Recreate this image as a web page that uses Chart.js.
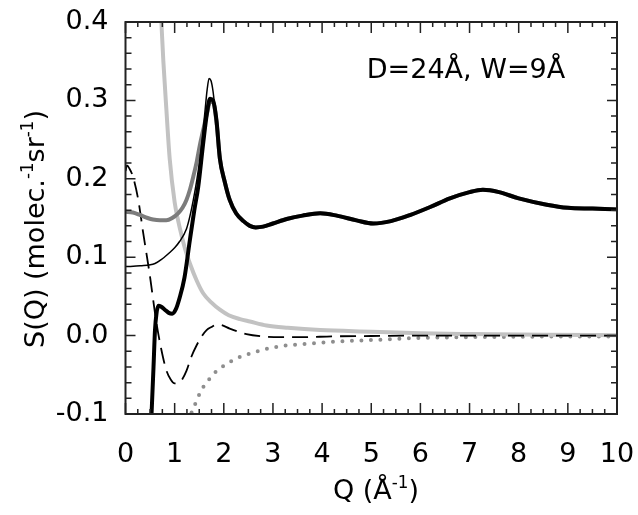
<!DOCTYPE html>
<html>
<head>
<meta charset="utf-8">
<script src="https://cdn.jsdelivr.net/npm/chart.js@4"></script>
<style>
  html, body { margin: 0; padding: 0; background: #fff; }
</style>
</head>
<body>
<canvas id="sq" width="638" height="515"></canvas>
<script>
// Axes
const qTicks = [0, 1, 2, 3, 4, 5, 6, 7, 8, 9, 10];
const sTicks = [-0.1, 0.0, 0.1, 0.2, 0.3, 0.4];
const qMinorStep = 0.25;
const sMinorStep = 0.02;

// S(Q) total (trait noir epais)
const qTot = [0.50, 0.53, 0.57, 0.60, 0.63, 0.67, 0.72, 0.80, 0.88, 0.95, 1.02, 1.10, 1.20, 1.31, 1.40, 1.48, 1.58, 1.66, 1.72, 1.78, 1.85, 1.92];
const sTot = [-0.150, -0.100, -0.040, 0.007, 0.028, 0.038, 0.037, 0.033, 0.029, 0.028, 0.033, 0.048, 0.074, 0.122, 0.160, 0.190, 0.245, 0.285, 0.302, 0.300, 0.275, 0.226];

// partie commune aux trois courbes au dela du pic
const qTail = [2.02, 2.12, 2.25, 2.40, 2.53, 2.65, 2.80, 3.00, 3.30, 3.60, 3.96, 4.30, 4.70, 5.04, 5.40, 5.80, 6.20, 6.60, 7.00, 7.27, 7.60, 8.00, 8.57, 9.00, 9.50, 10.0];
const sTail = [0.196, 0.173, 0.156, 0.146, 0.140, 0.138, 0.139, 0.143, 0.149, 0.153, 0.156, 0.153, 0.147, 0.143, 0.146, 0.154, 0.164, 0.175, 0.183, 0.186, 0.183, 0.175, 0.167, 0.163, 0.162, 0.161];

// trait fin noir
const qThin = [0, 0.30, 0.60, 0.75, 0.90, 1.00, 1.10, 1.24, 1.31, 1.38, 1.45, 1.51, 1.57, 1.62, 1.66, 1.70, 1.74, 1.78, 1.82, 1.87, 1.92];
const sThin = [0.088, 0.089, 0.092, 0.098, 0.106, 0.112, 0.120, 0.136, 0.152, 0.173, 0.198, 0.224, 0.256, 0.288, 0.313, 0.328, 0.325, 0.312, 0.290, 0.258, 0.226];

// gris fonce
const qGray = [0, 0.15, 0.29, 0.45, 0.56, 0.70, 0.83, 0.95, 1.07, 1.16, 1.24, 1.31, 1.38, 1.45, 1.51, 1.58, 1.66, 1.72, 1.78, 1.85, 1.92];
const sGray = [0.158, 0.157, 0.154, 0.150, 0.148, 0.147, 0.147, 0.150, 0.156, 0.163, 0.173, 0.186, 0.203, 0.222, 0.242, 0.262, 0.284, 0.298, 0.298, 0.273, 0.226];

// gris clair (decroissance)
const qLight = [0.68, 0.73, 0.77, 0.83, 0.90, 1.00, 1.07, 1.14, 1.22, 1.31, 1.45, 1.58, 1.75, 1.92, 2.10, 2.33, 2.53, 2.87, 3.30, 3.96, 5.00, 6.00, 7.00, 8.50, 10.0];
const sLight = [0.46, 0.40, 0.35, 0.29, 0.225, 0.170, 0.147, 0.128, 0.109, 0.092, 0.070, 0.054, 0.042, 0.033, 0.026, 0.021, 0.018, 0.013, 0.010, 0.007, 0.005, 0.003, 0.002, 0.001, 0.0005];

// tirets
const qDash = [0, 0.03, 0.08, 0.15, 0.26, 0.36, 0.49, 0.63, 0.73, 0.83, 0.92, 1.00, 1.07, 1.14, 1.24, 1.34, 1.45, 1.55, 1.65, 1.75, 1.85, 1.95, 2.12, 2.30, 2.46, 2.80, 3.14, 3.60, 4.20, 5.00, 6.00, 7.00, 8.00, 9.00, 10.0];
const sDash = [0.210, 0.217, 0.213, 0.203, 0.173, 0.131, 0.079, 0.016, -0.018, -0.044, -0.056, -0.061, -0.060, -0.057, -0.045, -0.027, -0.012, -0.001, 0.007, 0.011, 0.014, 0.0135, 0.009, 0.005, 0.002, -0.001, -0.002, -0.002, -0.001, -0.0005, 0, 0, 0, 0, 0];

// pointilles gris
const qDot = [1.30, 1.34, 1.45, 1.53, 1.66, 1.84, 2.04, 2.23, 2.43, 2.80, 3.21, 3.58, 4.20, 5.24, 6.00, 6.94, 8.00, 9.00, 10.0];
const sDot = [-0.110, -0.099, -0.083, -0.071, -0.059, -0.046, -0.037, -0.030, -0.025, -0.018, -0.013, -0.011, -0.008, -0.005, -0.003, -0.002, -0.0015, -0.001, -0.001];

const FONT = '"DejaVu Sans", sans-serif';

function toPoints(qs, ss) {
  return qs.map((q, i) => ({ x: q, y: ss[i] }));
}

// texte avec exposants : parts = [[texte, exposant?], ...]
function drawRich(ctx, parts, x, y, size) {
  const widths = parts.map(([t, sup]) => {
    ctx.font = `${sup ? size * 0.62 : size}px ${FONT}`;
    return ctx.measureText(t).width;
  });
  let cx = x - widths.reduce((a, b) => a + b, 0) / 2;
  parts.forEach(([t, sup], i) => {
    ctx.font = `${sup ? size * 0.62 : size}px ${FONT}`;
    ctx.fillText(t, cx, sup ? y - size * 0.42 : y);
    cx += widths[i];
  });
}

// Cadre, graduations interieures et textes
const framePlugin = {
  id: "frame",
  afterDatasetsDraw(chart) {
    const { ctx, chartArea: a, scales } = chart;
    const xs = scales.x, ys = scales.y;
    ctx.save();
    ctx.strokeStyle = "#222";
    ctx.lineWidth = 1.5;
    ctx.beginPath();
    const nq = Math.round((xs.max - xs.min) / qMinorStep);
    for (let i = 0; i <= nq; i++) {
      const v = xs.min + i * qMinorStep;
      const px = xs.getPixelForValue(v);
      const len = Math.abs(v - Math.round(v)) < 1e-6 ? 11 : 5;
      ctx.moveTo(px, a.bottom); ctx.lineTo(px, a.bottom - len);
      ctx.moveTo(px, a.top); ctx.lineTo(px, a.top + len);
    }
    const ns = Math.round((ys.max - ys.min) / sMinorStep);
    for (let i = 0; i <= ns; i++) {
      const v = ys.min + i * sMinorStep;
      const py = ys.getPixelForValue(v);
      const len = i % 5 === 0 ? 10 : 6;
      ctx.moveTo(a.left, py); ctx.lineTo(a.left + len, py);
      ctx.moveTo(a.right, py); ctx.lineTo(a.right - len, py);
    }
    ctx.stroke();
    ctx.lineWidth = 2;
    ctx.strokeRect(a.left, a.top, a.right - a.left, a.bottom - a.top);

    ctx.fillStyle = "#000";
    ctx.textAlign = "left";
    ctx.textBaseline = "alphabetic";
    drawRich(ctx, [["D=24Å, W=9Å", false]], 466, 78, 27);
    drawRich(ctx, [["Q (Å", false], ["-1", true], [")", false]], 376, 499, 27);
    ctx.translate(44, 229);
    ctx.rotate(-Math.PI / 2);
    drawRich(ctx, [["S(Q) (molec.", false], ["-1", true], ["sr", false], ["-1", true], [")", false]], 0, 0, 27);
    ctx.restore();
  },
};

function line(qs, ss, color, width, extra) {
  return Object.assign({
    data: toPoints(qs, ss),
    borderColor: color,
    borderWidth: width,
    pointRadius: 0,
    fill: false,
    clip: 0,
    cubicInterpolationMode: "monotone",
  }, extra || {});
}

new Chart(document.getElementById("sq"), {
  type: "line",
  data: {
    datasets: [
      line(qTot.concat(qTail), sTot.concat(sTail), "#000", 4, { order: 0 }),
      line(qThin.concat(qTail), sThin.concat(sTail), "#000", 1.5, { order: 1 }),
      line(qGray.concat(qTail), sGray.concat(sTail), "#7c7c7c", 4, { order: 2 }),
      line(qDash, sDash, "#000", 1.8, { order: 3, borderDash: [16, 8] }),
      line(qLight, sLight, "#c2c2c2", 4, { order: 4 }),
      line(qDot, sDot, "#8e8e8e", 4, { order: 5, borderDash: [0, 9.5], borderCapStyle: "round" }),
    ],
  },
  options: {
    responsive: false,
    devicePixelRatio: 1,
    animation: false,
    events: [],
    layout: { padding: { top: 22, right: 21, left: 0, bottom: 0 } },
    plugins: { legend: { display: false }, tooltip: { enabled: false } },
    scales: {
      x: {
        type: "linear",
        min: 0,
        max: 10,
        grid: { display: false, drawTicks: false },
        border: { display: false },
        afterBuildTicks: (s) => { s.ticks = qTicks.map((v) => ({ value: v })); },
        ticks: { color: "#000", font: { family: FONT, size: 27 }, padding: 25, maxRotation: 0, autoSkip: false },
        afterFit: (s) => {
          s.height = 101;
          s.paddingLeft = 0;
          s.paddingRight = 0;
        },
      },
      y: {
        type: "linear",
        min: -0.1,
        max: 0.4,
        grid: { display: false, drawTicks: false },
        border: { display: false },
        afterBuildTicks: (s) => { s.ticks = sTicks.map((v) => ({ value: v })); },
        ticks: {
          color: "#000",
          font: { family: FONT, size: 27 },
          padding: 17,
          callback: (v) => (Math.abs(v) < 1e-9 ? "0.0" : v.toFixed(1)),
        },
        afterFit: (s) => {
          s.width = 125.5;
          s.paddingTop = 0;
          s.paddingBottom = 0;
        },
      },
    },
  },
  plugins: [framePlugin],
});
</script>
</body>
</html>
